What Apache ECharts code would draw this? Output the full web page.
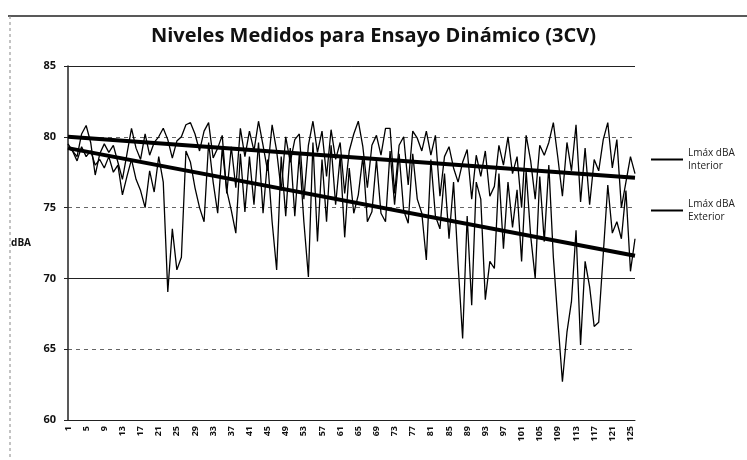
<!DOCTYPE html>
<html lang="es">
<head>
    <meta charset="UTF-8">
    <title>Niveles Medidos</title>
    <script src="https://cdn.jsdelivr.net/npm/echarts@6/dist/echarts.min.js"></script>
    <style>
        html, body { margin: 0; padding: 0; background: #fff; }
    </style>
</head>
<body>
    <div id="chart" style="width: 747px; height: 460px;"></div>
    <script>
        const interior = [
            79.5, 79.0, 78.6, 80.2, 80.8, 79.6, 77.3, 78.8, 79.5, 78.9,
            79.4, 78.2, 77.0, 78.8, 80.6, 79.2, 78.4, 80.2, 78.7, 79.6,
            80.0, 80.6, 79.8, 78.5, 79.7, 80.0, 80.85, 81.0, 80.2, 79.0,
            80.4, 81.0, 78.5, 79.2, 80.1, 76.0, 79.3, 76.4, 80.6, 78.6,
            80.4, 79.0, 81.1, 79.4, 77.6, 80.85, 79.0, 76.2, 80.0, 78.2,
            79.8, 80.2, 75.6, 79.4, 81.1, 78.9, 80.4, 77.2, 80.5, 78.4,
            79.6, 76.0, 79.0, 80.2, 81.1, 79.3, 76.4, 79.4, 80.1, 78.7,
            80.6, 80.6, 76.0, 79.4, 80.0, 76.6, 80.4, 79.9, 79.0, 80.4,
            78.7, 80.1, 75.8, 78.6, 79.3, 77.8, 76.8, 78.2, 79.1, 75.6,
            78.7, 77.2, 79.0, 75.8, 76.5, 79.4, 78.0, 80.0, 77.4, 78.6,
            75.0, 80.1, 78.3, 75.6, 79.4, 78.7, 79.6, 81.0, 78.5, 75.8,
            79.6, 77.6, 80.85, 75.4, 79.2, 75.2, 78.4, 77.6, 79.8, 81.0,
            77.8, 79.8, 75.0, 76.8, 78.6, 77.4
        ];
        const exterior = [
            79.2, 79.0, 78.3, 79.3, 78.6, 79.0, 78.0, 78.4, 77.8, 78.6,
            77.5, 78.0, 75.9, 77.2, 78.4, 77.0, 76.2, 75.0, 77.6, 76.1,
            78.6, 76.8, 69.05, 73.5, 70.6, 71.5, 79.0, 78.2, 76.4, 75.0,
            74.0, 79.6, 76.8, 74.6, 79.2, 76.2, 74.8, 73.2, 78.8, 74.7,
            78.6, 75.2, 79.6, 74.6, 78.4, 74.0, 70.6, 78.6, 74.4, 79.2,
            74.4, 78.8, 74.0, 70.1, 79.6, 72.6, 78.4, 74.0, 79.4, 75.2,
            78.6, 72.9, 77.8, 74.6, 75.9, 78.6, 74.0, 74.7, 78.4, 74.6,
            74.0, 79.0, 75.2, 78.8, 74.8, 73.9, 78.8, 75.6, 74.6, 71.3,
            78.4, 74.4, 73.5, 77.4, 72.8, 76.8, 71.0, 65.75, 74.4, 68.1,
            76.8, 75.6, 68.5, 71.2, 70.7, 77.4, 72.1, 76.8, 73.6, 76.25,
            71.2, 77.6, 73.0, 70.0, 77.2, 72.6, 78.0, 71.5, 67.0, 62.7,
            66.2, 68.4, 73.4, 65.3, 71.2, 69.4, 66.6, 66.9, 71.7, 76.6,
            73.2, 74.0, 72.8, 76.2, 70.5, 72.8
        ];
        // lineas de tendencia: valor inicial y final
        const trendInterior = [80.0, 77.1];
        const trendExterior = [79.2, 71.6];

        const categories = interior.map((v, i) => String(i + 1));

        function trendData(ends){
            const arr = categories.map(() => null);
            arr[0] = ends[0];
            arr[arr.length - 1] = ends[1];
            return arr;
        }

        const myChart = echarts.init(document.getElementById('chart'));
        const labelFont = 'Open Sans';
        const option = {
            animation: false,
            title: {
                text: 'Niveles Medidos para Ensayo Dinámico (3CV)',
                left: 'center',
                top: 21,
                textStyle: { fontFamily: labelFont, fontSize: 20, fontWeight: 'bold', color: '#111' }
            },
            grid: { left: 68, right: 112, top: 66, bottom: 40 },
            legend: {
                orient: 'vertical',
                left: 646,
                top: 135,
                itemGap: 12,
                itemWidth: 32,
                itemHeight: 2,
                icon: 'rect',
                data: ['Lmáx dBA Interior', 'Lmáx dBA Exterior'],
                formatter: name => name.replace(' dBA ', ' dBA\n'),
                textStyle: { fontFamily: labelFont, fontSize: 10, color: '#222', lineHeight: 13, padding: [13, 0, 0, 0] }
            },
            xAxis: {
                type: 'category',
                data: categories,
                boundaryGap: false,
                axisLine: { lineStyle: { color: '#222', width: 1 } },
                axisTick: { show: false },
                axisLabel: {
                    interval: 3,
                    rotate: 90,
                    fontFamily: labelFont,
                    fontSize: 9,
                    fontWeight: 'bold',
                    color: '#111',
                    margin: 6
                }
            },
            yAxis: {
                type: 'value',
                min: 60,
                max: 85,
                interval: 5,
                name: 'dBA',
                nameLocation: 'middle',
                nameRotate: 0,
                nameGap: 37,
                nameTextStyle: { fontFamily: labelFont, fontSize: 10, fontWeight: 'bold', color: '#111' },
                axisLine: { show: true, lineStyle: { color: '#222', width: 1.5 } },
                axisTick: { show: true, length: 4, lineStyle: { color: '#222' } },
                axisLabel: { fontFamily: labelFont, fontSize: 11, fontWeight: 'bold', color: '#111', margin: 12 },
                splitLine: { lineStyle: { color: '#666', type: [4, 4], width: 1 } }
            },
            graphic: [
                { type: 'line', shape: { x1: 8, y1: 16, x2: 747, y2: 16 }, style: { stroke: '#222', lineWidth: 1.5 } },
                { type: 'line', shape: { x1: 10, y1: 16, x2: 10, y2: 460 }, style: { stroke: '#888', lineWidth: 1, lineDash: [3, 3] } }
            ],
            series: [
                {
                    name: 'Lmáx dBA Interior',
                    type: 'line',
                    data: interior,
                    symbol: 'none',
                    lineStyle: { color: '#000', width: 1.3 },
                    itemStyle: { color: '#000' },
                    markLine: {
                        silent: true,
                        symbol: 'none',
                        label: { show: false },
                        lineStyle: { color: '#222', type: 'solid', width: 1 },
                        data: [{ yAxis: 70 }, { yAxis: 85 }]
                    }
                },
                {
                    name: 'Lmáx dBA Exterior',
                    type: 'line',
                    data: exterior,
                    symbol: 'none',
                    lineStyle: { color: '#000', width: 1.3 },
                    itemStyle: { color: '#000' }
                },
                {
                    name: 'Tendencia Interior',
                    type: 'line',
                    data: trendData(trendInterior),
                    connectNulls: true,
                    symbol: 'none',
                    lineStyle: { color: '#000', width: 4 },
                    z: 3
                },
                {
                    name: 'Tendencia Exterior',
                    type: 'line',
                    data: trendData(trendExterior),
                    connectNulls: true,
                    symbol: 'none',
                    lineStyle: { color: '#000', width: 4 },
                    z: 3
                }
            ]
        };
        myChart.setOption(option);
    </script>
</body>
</html>
